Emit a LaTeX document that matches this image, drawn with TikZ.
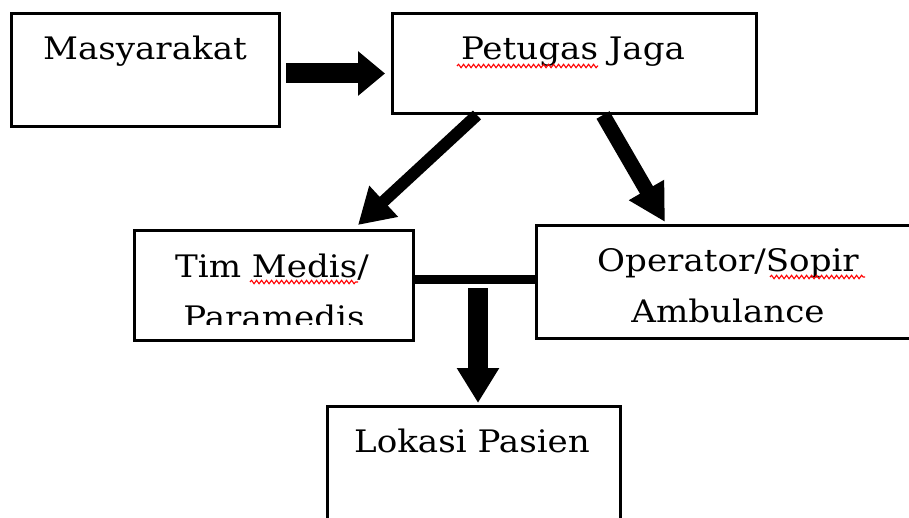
\documentclass[tikz,border=0pt]{standalone}
\usepackage{fontspec}
\setmainfont{DejaVu Serif}[FakeStretch=1.1]
\usetikzlibrary{arrows.meta,calc,decorations.pathmorphing}
\tikzset{
  box/.style={draw=black, line width=3pt, rectangle, inner sep=0pt, anchor=north west},
  txt/.style={inner sep=0pt, anchor=base, font=\fontsize{31}{31}\selectfont, text=black},
  squig/.style={draw=red, line width=1.1pt, decorate, decoration={snake, amplitude=1.7pt, segment length=5pt}},
  fatarrow/.style={draw=black, line width=#1},
}
\begin{document}
\begin{tikzpicture}[x=1pt,y=-1pt]
\useasboundingbox (0,0) rectangle (909,518);
\clip (0,0) rectangle (909,518);
% boxes
\node[box, minimum width=268pt, minimum height=113pt] (masy) at (10,12) {};
\node[box, minimum width=364pt, minimum height=100pt] (pet) at (391,12) {};
\node[box, minimum width=279pt, minimum height=110pt] (tim) at (133,229) {};
\node[box, minimum width=400pt, minimum height=113pt] (op) at (535,224) {};
\node[box, minimum width=293pt, minimum height=140pt] (lok) at (326,405) {};
% texts
\node[txt] (tmasy) at (145,60) {Masyarakat};
\node[txt] (tpet) at (573,60) {Petugas Jaga};
\node[txt] (ttim1) at (272,278) {Tim Medis/};
\begin{scope}
  \clip (133,229) rectangle (412,324);
  \node[txt] (ttim2) at (274,328) {Paramedis};
\end{scope}
\node[txt] (top1) at (728,272) {Operator/Sopir};
\node[txt] (top2) at (728,322) {Ambulance};
\node[txt] (tlok) at (472,452) {Lokasi Pasien};
% spell-check squiggles
\draw[squig] (457,66) -- (598,66);
\draw[squig] (250,282) -- (358,282);
\draw[squig] (770,277) -- (865,277);
% arrows
\draw[fatarrow=20pt, -{Triangle[length=27pt,width=43pt]}]
  ($(masy.east)+(5,3.5)$) -- ($(pet.west)+(-6,10)$);
\draw[fatarrow=12pt, -{Triangle[length=35pt,width=40pt]}]
  ($(pet.south west)+(86,0)$) -- ($(tim.north west)+(225,-4)$);
\draw[fatarrow=15pt, -{Triangle[length=37pt,width=38pt]}]
  ($(pet.south west)+(212,0)$) -- ($(op.north west)+(130,-2)$);
\coordinate (jl) at ($(tim.east)+(0,-6)$);
\draw[fatarrow=9pt] (jl) -- (jl -| op.west);
\coordinate (junc) at ($(jl)+(63,9)$);
\draw[fatarrow=20pt, -{Triangle[length=35pt,width=40pt]}]
  (junc) -- ($(junc |- lok.north)+(0,-2)$);
\end{tikzpicture}
\end{document}
